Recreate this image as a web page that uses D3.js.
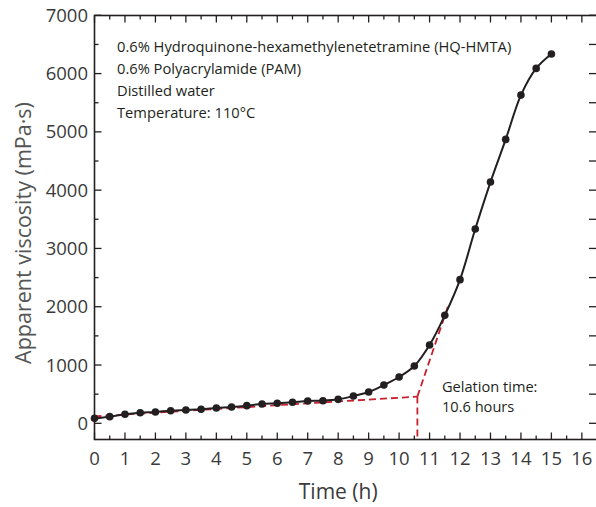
<!DOCTYPE html>
<html>
<head>
<meta charset="utf-8">
<script src="https://cdn.jsdelivr.net/npm/d3@7"></script>
<style>
  html, body { margin: 0; padding: 0; background: #fff; }
  svg { display: block; }
  text { font-family: "Open Sans", "DejaVu Sans", sans-serif; }
</style>
</head>
<body>
<svg id="chart" width="596" height="507"></svg>
<script>
// measured viscosity, every half hour
const times = [0, 0.5, 1, 1.5, 2, 2.5, 3, 3.5, 4, 4.5, 5, 5.5, 6, 6.5, 7, 7.5,
  8, 8.5, 9, 9.5, 10, 10.5, 11, 11.5, 12, 12.5, 13, 13.5, 14, 14.5, 15];
const viscosity = [85, 114, 154, 180, 194, 216, 228, 240, 262, 280, 303, 331, 343, 360, 383, 388,
  411, 468, 537, 657, 794, 983, 1343, 1852, 2465, 3333, 4139, 4871, 5631, 6089, 6335];

// tangent construction for gelation point
const baseTangent = [[0, 118], [10.6, 458]];
const steepTangent = [[10.6, 458], [11.6, 2000]];
const gelTime = 10.6;

const xTicks = d3.range(0, 17, 1);
const yTicks = d3.range(0, 7001, 1000);
const legendLines = [
  '0.6% Hydroquinone-hexamethylenetetramine (HQ-HMTA)',
  '0.6% Polyacrylamide (PAM)',
  'Distilled water',
  'Temperature: 110\u00B0C'
];
const noteLines = ['Gelation time:', '10.6 hours'];

const svg = d3.select('#chart');
const plotLeft = 94.5, plotRight = 597, plotTop = 15.5, plotBottom = 439.5;
const ink = '#231f20';
const textColor = '#3a3a3a';
const red = '#c8202f';

const x = d3.scaleLinear().domain([0, 16.5]).range([plotLeft, plotLeft + 30.46 * 16.5]);
const y = d3.scaleLinear().domain([0, 7000]).range([423.3, 15.3]);
const yMin = y.invert(plotBottom);

// frame
svg.append('rect')
  .attr('x', plotLeft).attr('y', plotTop)
  .attr('width', plotRight - plotLeft).attr('height', plotBottom - plotTop)
  .attr('fill', 'none').attr('stroke', ink).attr('stroke-width', 1.6);

const minorX = d3.range(0.5, 16.5, 1);
const minorY = d3.range(500, 7000, 1000);

// ticks inward on all four sides
const tickG = svg.append('g').attr('stroke', ink).attr('stroke-width', 1.3);
xTicks.forEach(t => {
  tickG.append('line').attr('x1', x(t)).attr('x2', x(t)).attr('y1', plotBottom).attr('y2', plotBottom - 7);
  tickG.append('line').attr('x1', x(t)).attr('x2', x(t)).attr('y1', plotTop).attr('y2', plotTop + 7);
});
minorX.forEach(t => {
  tickG.append('line').attr('x1', x(t)).attr('x2', x(t)).attr('y1', plotBottom).attr('y2', plotBottom - 4);
  tickG.append('line').attr('x1', x(t)).attr('x2', x(t)).attr('y1', plotTop).attr('y2', plotTop + 4);
});
yTicks.forEach(v => {
  tickG.append('line').attr('x1', plotLeft).attr('x2', plotLeft + 7).attr('y1', y(v)).attr('y2', y(v));
  tickG.append('line').attr('x1', plotRight).attr('x2', plotRight - 8).attr('y1', y(v)).attr('y2', y(v));
});
minorY.forEach(v => {
  tickG.append('line').attr('x1', plotLeft).attr('x2', plotLeft + 4).attr('y1', y(v)).attr('y2', y(v));
  tickG.append('line').attr('x1', plotRight).attr('x2', plotRight - 8).attr('y1', y(v)).attr('y2', y(v));
});

// tick labels
svg.append('g').selectAll('text').data(xTicks).join('text')
  .attr('x', d => x(d)).attr('y', 465)
  .attr('text-anchor', 'middle')
  .attr('font-size', 18.5).attr('fill', textColor)
  .text(d => d);

svg.append('g').selectAll('text').data(yTicks).join('text')
  .attr('x', 88).attr('y', d => y(d) + 6.5)
  .attr('text-anchor', 'end')
  .attr('font-size', 18.5).attr('fill', textColor)
  .text(d => d);

// axis titles
svg.append('text')
  .attr('x', x(8)).attr('y', 499)
  .attr('text-anchor', 'middle')
  .attr('font-size', 21).attr('fill', textColor)
  .text('Time (h)');

svg.append('text')
  .attr('transform', `translate(31, 233) rotate(-90)`)
  .attr('text-anchor', 'middle')
  .attr('font-size', 21.5).attr('fill', '#555')
  .text('Apparent viscosity (mPa\u00B7s)');

// dashed tangent lines
const dash = '7,4';
const lineXY = d3.line().x(d => x(d[0])).y(d => y(d[1]));
svg.append('path').datum(baseTangent)
  .attr('d', lineXY).attr('fill', 'none')
  .attr('stroke', red).attr('stroke-width', 1.8).attr('stroke-dasharray', dash);
svg.append('path').datum(steepTangent)
  .attr('d', lineXY).attr('fill', 'none')
  .attr('stroke', red).attr('stroke-width', 1.8).attr('stroke-dasharray', dash);
svg.append('path').datum([[gelTime, baseTangent[1][1]], [gelTime, yMin]])
  .attr('d', lineXY).attr('fill', 'none')
  .attr('stroke', red).attr('stroke-width', 1.8).attr('stroke-dasharray', dash);

// data curve and markers
const pts = times.map((t, i) => [t, viscosity[i]]);
svg.append('path').datum(pts)
  .attr('d', d3.line().x(d => x(d[0])).y(d => y(d[1])).curve(d3.curveCatmullRom.alpha(0.5)))
  .attr('fill', 'none').attr('stroke', ink).attr('stroke-width', 2);

svg.append('g').selectAll('circle').data(pts).join('circle')
  .attr('cx', d => x(d[0])).attr('cy', d => y(d[1]))
  .attr('r', 3.8).attr('fill', ink);

// legend text
svg.append('g').selectAll('text').data(legendLines).join('text')
  .attr('x', 117).attr('y', (d, i) => 52 + i * 22)
  .attr('font-size', 14.7).attr('fill', ink)
  .text(d => d);

svg.append('g').selectAll('text').data(noteLines).join('text')
  .attr('x', 442).attr('y', (d, i) => 392 + i * 20)
  .attr('font-size', 14.6).attr('fill', ink)
  .text(d => d);
</script>
</body>
</html>
